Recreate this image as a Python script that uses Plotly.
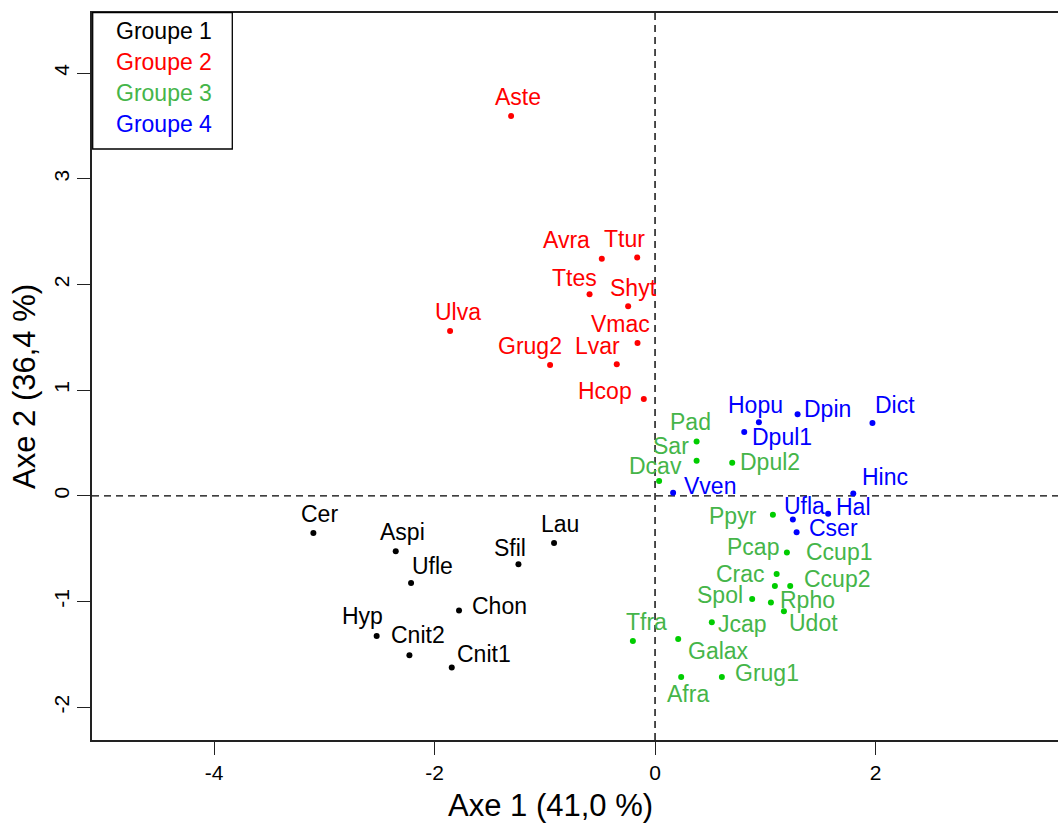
import plotly.graph_objects as go

# ---------------- data ----------------
group_names = ["Groupe 1", "Groupe 2", "Groupe 3", "Groupe 4"]

g1_names = ["Cer", "Aspi", "Ufle", "Sfil", "Lau", "Chon", "Hyp", "Cnit2", "Cnit1"]
g1_x = [-3.099, -2.352, -2.213, -1.239, -0.916, -1.778, -2.525, -2.228, -1.844]
g1_y = [-0.352, -0.525, -0.825, -0.648, -0.447, -1.086, -1.326, -1.509, -1.625]

g2_names = ["Aste", "Avra", "Ttur", "Ttes", "Shyt", "Ulva", "Vmac", "Grug2", "Lvar", "Hcop"]
g2_x = [-1.306, -0.483, -0.162, -0.594, -0.244, -1.859, -0.159, -0.952, -0.347, -0.102]
g2_y = [3.593, 2.244, 2.254, 1.906, 1.793, 1.559, 1.446, 1.237, 1.244, 0.916]

g3_names = ["Pad", "Sar", "Dpul2", "Dcav", "Ppyr", "Pcap", "Ccup1", "Crac", "Ccup2",
            "Spol", "Rpho", "Udot", "Jcap", "Galax", "Tfra", "Afra", "Grug1"]
g3_x = [0.377, 0.377, 0.700, 0.037, 1.069, 1.196, 1.103, 1.087, 1.226,
        0.881, 1.051, 1.169, 0.515, 0.210, -0.201, 0.237, 0.606]
g3_y = [0.513, 0.333, 0.314, 0.140, -0.178, -0.535, -0.740, -0.853, -0.853,
        -0.976, -1.008, -1.093, -1.197, -1.355, -1.374, -1.714, -1.714]

g4_names = ["Hopu", "Dpin", "Dict", "Dpul1", "Vven", "Hinc", "Ufla", "Hal", "Cser"]
g4_x = [0.942, 1.293, 1.972, 0.809, 0.164, 1.798, 1.250, 1.570, 1.284]
g4_y = [0.695, 0.771, 0.689, 0.604, 0.030, 0.021, -0.225, -0.170, -0.345]

x_ticks = [-4, -2, 0, 2]
y_ticks = [-2, -1, 0, 1, 2, 3, 4]
x_title = "Axe 1 (41,0 %)"
y_title = "Axe 2 (36,4 %)"

# ---------------- styles ----------------
# label offsets in screen pixels (dx right, dy down)
g1_off = [(6, -19), (7, -19), (21, -17), (-8, -16), (6, -19), (40, -5), (-14, -20), (9, -20), (32, -14)]
g2_off = [(7, -19), (-35, -19), (-13, -19), (-15, -16), (5, -18), (8, -19), (-17, -19), (-20, -19), (-19, -18), (-39, -8)]
g3_off = [(-6, -20), (-26, -15), (38, -1), (-4, -15), (-40, 1), (-34, -5), (62, -22), (-34, -12), (47, -7),
          (-32, -4), (37, -2), (30, 12), (31, 2), (40, 12), (14, -19), (7, 17), (45, -4)]
g4_off = [(-3, -17), (30, -5), (23, -18), (38, 5), (37, -7), (32, -17), (12, -14), (25, -7), (37, -4)]

pt_colors = ["#000000", "#FF0000", "#00CD00", "#0000FF"]
lab_colors = ["#000000", "#FF0000", "#45B549", "#0000FF"]
FONT = "Arial, Liberation Sans, Helvetica, sans-serif"
LAB_SIZE = 23

W, H = 1058, 824
L, R, T, B = 92, 0, 13, 84
PW, PH = W - L - R, H - T - B


def px_x(px):
    return (px - L) / PW


def px_y(py):
    return (H - B - py) / PH


groups = [
    (g1_names, g1_x, g1_y, g1_off),
    (g2_names, g2_x, g2_y, g2_off),
    (g3_names, g3_x, g3_y, g3_off),
    (g4_names, g4_x, g4_y, g4_off),
]

fig = go.Figure()
annotations = []
for gi, (names, xs, ys, offs) in enumerate(groups):
    fig.add_trace(go.Scatter(
        x=xs, y=ys, mode="markers", name=group_names[gi],
        marker=dict(size=6, color=pt_colors[gi]), showlegend=False,
        hoverinfo="text", text=names,
    ))
    for n, xv, yv, (dx, dy) in zip(names, xs, ys, offs):
        annotations.append(dict(
            x=xv, y=yv, xref="x", yref="y", text=n, showarrow=False,
            xshift=dx, yshift=-dy, xanchor="center", yanchor="middle",
            font=dict(family=FONT, size=LAB_SIZE, color=lab_colors[gi]),
        ))

# axis titles
annotations.append(dict(x=px_x(550), y=px_y(805), xref="paper", yref="paper", text=x_title,
                        showarrow=False, xanchor="center", yanchor="middle",
                        font=dict(family=FONT, size=31, color="black")))
annotations.append(dict(x=px_x(24), y=px_y(387), xref="paper", yref="paper", text=y_title,
                        showarrow=False, xanchor="center", yanchor="middle", textangle=-90,
                        font=dict(family=FONT, size=31, color="black")))

# legend texts
leg_y = [31, 62, 93, 124]
for gi, name in enumerate(group_names):
    annotations.append(dict(x=px_x(114), y=px_y(leg_y[gi]), xref="paper", yref="paper", text=name,
                            showarrow=False, xanchor="left", yanchor="middle",
                            font=dict(family=FONT, size=LAB_SIZE, color=lab_colors[gi])))

shapes = [
    dict(type="line", xref="x", yref="paper", x0=0, x1=0, y0=0, y1=1,
         line=dict(color="black", width=1.4, dash="7px,5px"), layer="below"),
    dict(type="line", xref="paper", yref="y", x0=0, x1=1, y0=0, y1=0,
         line=dict(color="black", width=1.4, dash="7px,5px"), layer="below"),
    dict(type="rect", xref="paper", yref="paper", x0=px_x(92.7), x1=px_x(232.3),
         y0=px_y(149), y1=px_y(12.7), line=dict(color="black", width=1.3),
         fillcolor="white", layer="above"),
]

fig.update_layout(
    width=W, height=H, autosize=False,
    margin=dict(l=L, r=R, t=T, b=B, pad=0),
    paper_bgcolor="white", plot_bgcolor="white",
    annotations=annotations, shapes=shapes,
    font=dict(family=FONT, color="black"),
    xaxis=dict(range=[-5.107, 3.655], tickvals=x_ticks, ticktext=[str(v) for v in x_ticks],
               showgrid=False, zeroline=False, showline=True, linecolor="#222", linewidth=1.5,
               mirror=True, ticks="outside", ticklen=13, tickwidth=1.2, tickcolor="#222",
               tickfont=dict(family=FONT, size=21, color="black")),
    yaxis=dict(range=[-2.310, 4.568], tickvals=y_ticks, ticktext=[str(v) for v in y_ticks],
               showgrid=False, zeroline=False, showline=True, linecolor="#222", linewidth=1.5,
               mirror=False, ticks="outside", ticklen=13, tickwidth=1.2, tickcolor="#222",
               tickangle=-90, tickfont=dict(family=FONT, size=21, color="black")),
)

fig.write_html("out.html")
